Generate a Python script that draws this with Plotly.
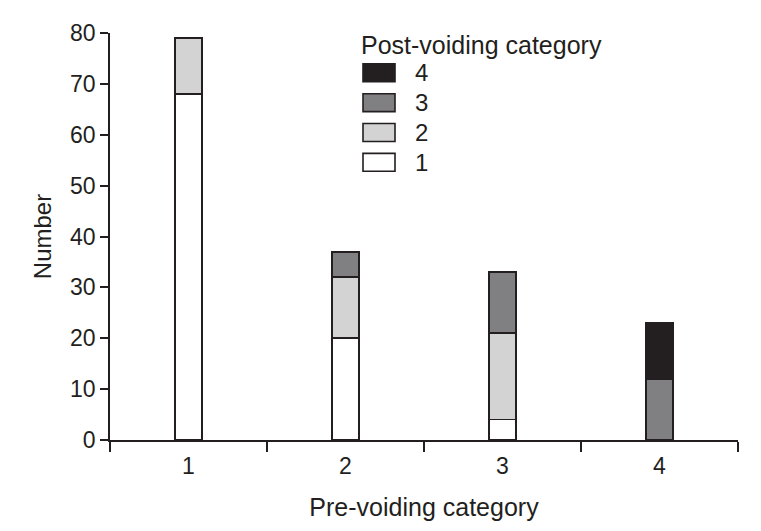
import plotly.graph_objects as go

# pre-voiding categories on the x axis
pre_cat = ["1", "2", "3", "4"]

# counts for each post-voiding category, stacked bottom to top (None = no segment)
post_1 = [68, 20, 4, None]
post_2 = [11, 12, 17, None]
post_3 = [None, 5, 12, 12]
post_4 = [None, None, None, 11]

post_labels = ["1", "2", "3", "4"]
post_colors = ["#ffffff", "#d3d3d3", "#808082", "#231f20"]
edge = "#231f20"
font = "Liberation Sans, Arial, sans-serif"

fig = go.Figure()
for name, vals, col in zip(post_labels, [post_1, post_2, post_3, post_4], post_colors):
    fig.add_trace(go.Bar(x=pre_cat, y=vals, name=name, marker_color=col,
                         marker_line_color=edge, marker_line_width=1.6,
                         width=0.17, showlegend=False))

# plot area in page pixels (page has an 8px body margin)
L, R, T, B = 110, 738, 31, 440
OFF = 8
def px(x):
    return (x - L) / (R - L)
def py(y):
    return (B - y) / (B - T)

# hand-made legend (big rectangular swatches like the original)
fig.add_annotation(x=px(359), y=py(43), xref="paper", yref="paper",
                   text="Post-voiding category", showarrow=False,
                   xanchor="left", yanchor="middle",
                   font=dict(size=25, color="#231f20", family=font))
rows = [71, 101, 131, 161]
for i, name in enumerate(reversed(post_labels)):
    col = post_colors[len(post_labels) - 1 - i]
    yc = rows[i]
    fig.add_shape(type="rect", xref="paper", yref="paper",
                  x0=px(363), x1=px(395), y0=py(yc + 9), y1=py(yc - 9),
                  fillcolor=col, line=dict(color=edge, width=1.6))
    fig.add_annotation(x=px(413), y=py(yc), xref="paper", yref="paper",
                       text=name, showarrow=False, xanchor="left", yanchor="middle",
                       font=dict(size=24, color="#231f20", family=font))

fig.update_layout(
    barmode="stack",
    width=761, height=531,
    margin=dict(l=L - OFF, r=761 - R + OFF, t=T - OFF, b=531 - B + OFF),
    plot_bgcolor="white", paper_bgcolor="white",
    font=dict(family=font, size=23, color="#231f20"),
)
fig.update_xaxes(type="category", range=[-0.5, 3.5], tickson="boundaries",
                 showline=True, linecolor=edge, linewidth=1.6,
                 ticks="outside", ticklen=10, tickwidth=1.6, tickcolor=edge,
                 ticklabelstandoff=5,
                 showgrid=False, zeroline=False,
                 title=dict(text="Pre-voiding category", standoff=20, font=dict(size=25)))
fig.update_yaxes(range=[0, 80], dtick=10,
                 showline=True, linecolor=edge, linewidth=1.6,
                 ticks="outside", ticklen=8, tickwidth=1.6, tickcolor=edge,
                 showgrid=False, zeroline=False,
                 title=dict(text="Number", standoff=12, font=dict(size=24)))

fig.write_html("out.html")
